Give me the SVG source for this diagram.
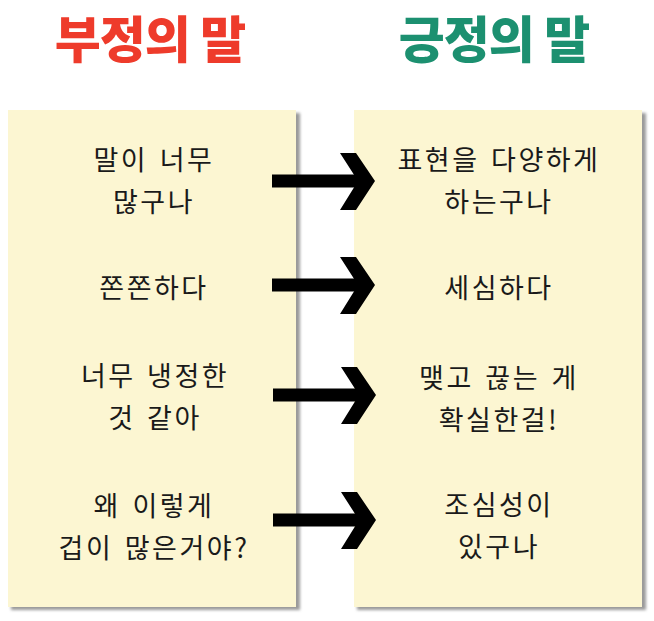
<svg xmlns="http://www.w3.org/2000/svg" width="654" height="621" viewBox="0 0 654 621">
<style>
.title{font-family:"Noto Sans CJK KR","Noto Sans",sans-serif;font-weight:900;font-size:50px;text-anchor:middle;letter-spacing:-1px}
.t{font-family:"Noto Sans CJK KR","Noto Sans",sans-serif;font-size:27px;fill:#1a1a1a;text-anchor:middle;letter-spacing:2.5px;word-spacing:3px}
.panel{fill:#fcf6d2}
.shadow{fill:#9a9a9a}
.arrow{fill:#000}
</style>
<defs>
<filter id="blur" x="-10%" y="-10%" width="120%" height="120%"><feGaussianBlur stdDeviation="1.8"/></filter>
<g id="arr"><rect x="0" y="-6.5" width="90" height="13"/><path d="M68,-28 L84,-28 L103,0 L84,29 L68,29 L86,0 Z"/></g>
</defs>
<rect width="654" height="621" fill="#fff"/>
<text class="title" x="150" y="58" fill="#ee3b2b">부정의 말</text>
<text class="title" x="494" y="58" fill="#1c9070">긍정의 말</text>
<g id="left">
<rect class="shadow" x="11" y="113" width="289" height="497" filter="url(#blur)"/>
<rect class="panel" x="8" y="110" width="288" height="497"/>
<text class="t" x="154" y="170">말이 너무</text>
<text class="t" x="154" y="212">많구나</text>
<text class="t" x="154" y="298">쫀쫀하다</text>
<text class="t" x="155" y="386">너무 냉정한</text>
<text class="t" x="155" y="428">것 같아</text>
<text class="t" x="154" y="516">왜 이렇게</text>
<text class="t" x="154" y="558">겁이 많은거야?</text>
</g>
<g id="right">
<rect class="shadow" x="357" y="113" width="289" height="497" filter="url(#blur)"/>
<rect class="panel" x="354" y="110" width="288" height="497"/>
<text class="t" x="499" y="170">표현을 다양하게</text>
<text class="t" x="499" y="212">하는구나</text>
<text class="t" x="499" y="298">세심하다</text>
<text class="t" x="499" y="388">맺고 끊는 게</text>
<text class="t" x="499" y="430">확실한걸!</text>
<text class="t" x="499" y="515">조심성이</text>
<text class="t" x="499" y="557">있구나</text>
</g>
<g id="connectors" class="arrow">
<use href="#arr" x="272" y="181"/>
<use href="#arr" x="272" y="285"/>
<use href="#arr" x="273" y="395"/>
<use href="#arr" x="273" y="520"/>
</g>
</svg>
